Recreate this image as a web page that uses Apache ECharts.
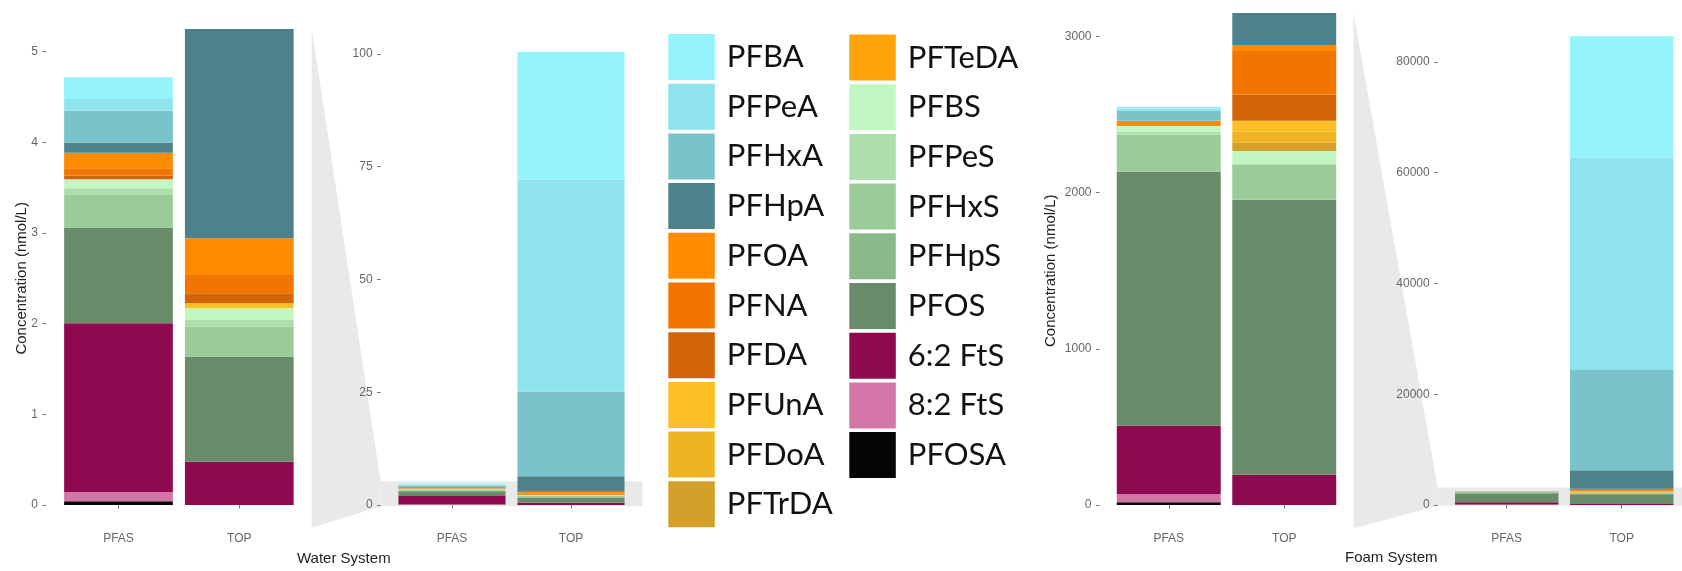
<!DOCTYPE html>
<html><head><meta charset="utf-8">
<script src="https://cdn.jsdelivr.net/npm/echarts@6/dist/echarts.min.js"></script>
<style>html,body{margin:0;padding:0;background:#fff}#c{width:1682px;height:571px}</style>
</head><body><div id="c"></div>
<script>
// ---- data (legend order, top of stack first) ----
const species = ['PFBA','PFPeA','PFHxA','PFHpA','PFOA','PFNA','PFDA','PFUnA','PFDoA','PFTrDA',
                 'PFTeDA','PFBS','PFPeS','PFHxS','PFHpS','PFOS','6:2 FtS','8:2 FtS','PFOSA'];
const categories = ['PFAS','TOP'];
const waterPFAS = [0.24,0.129,0.352,0.111,0.172,0.081,0.04,0,0,0,0,0.099,0.074,0.359,0,1.056,1.865,0.10,0.04];
const waterTOP  = [28.25,46.97,18.8,3.44,0.405,0.201,0.111,0.055,0,0,0,0.129,0.073,0.33,0,1.16,0.478,0,0];
const foamPFAS  = [10,15,64,0,34,0,0,0,0,0,0,34,20,239,0,1626,437,53,17];
const foamTOP   = [21860,38395,18118,3312,39,277,169,71,70,52,0,85,0,228,0,1760,194,0,0];
const waterZoomTicks = [0,1,2,3,4,5];
const waterTicks = [0,25,50,75,100];
const foamZoomTicks = [0,1000,2000,3000];
const foamTicks = [0,20000,40000,60000,80000];

const colors = ['#94f3fb','#8fe3ec','#7ac3cb','#4d8288','#ff8c00','#f27500','#d2640a','#fcbf24','#eeb424','#d4a02a',
                '#ffa40a','#c2f7c2','#addfad','#9acb99','#89b989','#688b69','#8e0a4f','#d376a7','#050505'];

// ---- layout ----
const panels = [
  {grid:{left:58.1, top:29, width:241.6, height:476}, pfas:waterPFAS, top:waterTOP, max:5.25, interval:1, ticks:waterZoomTicks, off:12.1},
  {grid:{left:392.5, top:31.3, width:238, height:473.7}, pfas:waterPFAS, top:waterTOP, max:105, interval:25, ticks:waterTicks, off:11.9},
  {grid:{left:1111, top:13, width:231, height:492}, pfas:foamPFAS, top:foamTOP, max:3150, interval:1000, ticks:foamZoomTicks, off:11.5},
  {grid:{left:1449.2, top:17.6, width:230, height:487.4}, pfas:foamPFAS, top:foamTOP, max:88000, interval:20000, ticks:foamTicks, off:11.5}
];
const waterZoomRange = [-0.25, 5.25];
const foamZoomRange = [-150, 3150];

const tickFont = {fontFamily:'Liberation Sans, Arial, sans-serif', fontSize:12, color:'#666'};

const grids = [], xAxes = [], yAxes = [], series = [];
panels.forEach((p, k) => {
  grids.push(Object.assign({containLabel:false, outerBoundsMode:'none'}, p.grid));
  xAxes.push({type:'category', gridIndex:k, data:categories, offset:23,
    axisLine:{show:false},
    axisTick:{show:true, alignWithLabel:true, length:3.5, lineStyle:{color:'#777'}},
    axisLabel:Object.assign({margin:5}, tickFont), splitLine:{show:false}});
  yAxes.push({type:'value', gridIndex:k, min:0, max:p.max, interval:p.interval, offset:p.off,
    axisLine:{show:false},
    axisTick:{show:true, length:3.5, customValues:p.ticks, lineStyle:{color:'#777'}},
    axisLabel:Object.assign({margin:8, customValues:p.ticks, formatter:v => String(v)}, tickFont),
    splitLine:{show:false}});
  for (let i = species.length - 1; i >= 0; i--) {
    series.push({type:'bar', name:species[i], xAxisIndex:k, yAxisIndex:k, stack:'s'+k,
      barWidth:'90%', clip:true, silent:true,
      itemStyle:{color:colors[i], borderWidth:0},
      data:[p.pfas[i], p.top[i]]});
  }
});

const legendBase = {orient:'vertical', icon:'rect', itemWidth:46.5, itemHeight:46, itemGap:3.7,
  padding:0, selectedMode:false,
  textStyle:{fontFamily:'Lato, sans-serif', fontSize:31, color:'#111', padding:[0,0,0,7]}};

const chart = echarts.init(document.getElementById('c'), null, {renderer:'canvas'});
chart.setOption({
  animation:false,
  backgroundColor:'#ffffff',
  grid:grids, xAxis:xAxes, yAxis:yAxes, series:series,
  legend:[
    Object.assign({}, legendBase, {data:species.slice(0,10), left:668.3, top:34}),
    Object.assign({}, legendBase, {data:species.slice(10), left:849.3, top:34.5})
  ]
});

// zoom indicators (wedge + band), derived from the axes
function ggEdges(k){ const g = panels[k].grid; const e = 0.05*g.width; return [g.left - e, g.left + g.width + e]; }
function yPix(k, v){ return chart.convertToPixel({yAxisIndex:k}, v); }
function zoomShapes(src, dst, range){
  const s = ggEdges(src), d = ggEdges(dst);
  const sTop = yPix(src, range[1]), sBot = yPix(src, range[0]);
  const dTop = yPix(dst, range[1]), dBot = yPix(dst, range[0]);
  return [
    {type:'polygon', z:0, silent:true, shape:{points:[[s[1],sTop],[d[0],dTop],[d[0],dBot],[s[1],sBot]]}, style:{fill:'#e9e9e9'}},
    {type:'rect', z:0, silent:true, shape:{x:d[0], y:dTop, width:d[1]-d[0], height:dBot-dTop}, style:{fill:'#e9e9e9'}}
  ];
}
const titleStyle = {fontFamily:'Liberation Sans, Arial, sans-serif', fontSize:15, fill:'#222'};
const graphics = [].concat(
  zoomShapes(0, 1, waterZoomRange),
  zoomShapes(2, 3, foamZoomRange),
  [
    {type:'text', z:10, x:21.7, y:(yPix(0, waterZoomRange[1]) + yPix(0, waterZoomRange[0]))/2, rotation:Math.PI/2,
      style:Object.assign({text:'Concentration (nmol/L)', textAlign:'center', textVerticalAlign:'middle'}, titleStyle)},
    {type:'text', z:10, x:1050.8, y:(yPix(2, foamZoomRange[1]) + yPix(2, foamZoomRange[0]))/2, rotation:Math.PI/2,
      style:Object.assign({text:'Concentration (nmol/L)', textAlign:'center', textVerticalAlign:'middle'}, titleStyle)},
    {type:'text', z:10, x:297, y:559, style:Object.assign({text:'Water System', textAlign:'left', textVerticalAlign:'middle'}, titleStyle)},
    {type:'text', z:10, x:1345, y:558, style:Object.assign({text:'Foam System', textAlign:'left', textVerticalAlign:'middle'}, titleStyle)}
  ]
);
chart.setOption({graphic:graphics});
</script>
</body></html>
